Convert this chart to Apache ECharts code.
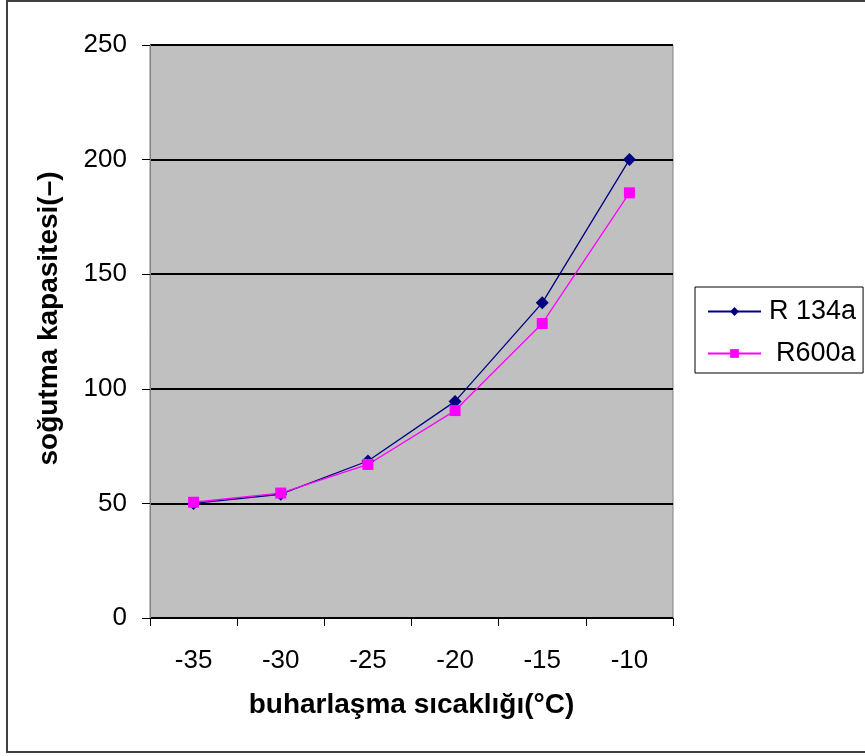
<!DOCTYPE html>
<html><head><meta charset="utf-8">
<script src="https://cdn.jsdelivr.net/npm/echarts@6/dist/echarts.min.js"></script>
<style>html,body{margin:0;padding:0;background:#fff;}#c{width:865px;height:756px;}</style>
</head><body><div id="c"></div>
<script>
const categories = ['-35', '-30', '-25', '-20', '-15', '-10'];
const r134a = [50, 54, 68.5, 94.5, 137.5, 200];
const r600a = [50.5, 54.5, 67, 90.5, 128.5, 185.5];
const yTicks = [0, 50, 100, 150, 200, 250];

const font = '"Liberation Sans", Arial, sans-serif';
const chart = echarts.init(document.getElementById('c'), null, {renderer: 'canvas'});
chart.setOption({
  animation: false,
  backgroundColor: '#fff',
  graphic: [{type: 'rect', shape: {x: 7, y: 1, width: 900, height: 751}, style: {fill: 'none', stroke: '#404040', lineWidth: 2}, z: -10}],
  grid: {left: 150, top: 45, right: 192, bottom: 138, show: true, backgroundColor: '#C0C0C0', borderWidth: 1, borderColor: '#808080'},
  legend: {
    orient: 'vertical', left: 695, top: 287,
    backgroundColor: '#fff', borderColor: '#000', borderWidth: 1,
    padding: [11, 7, 6, 12], itemGap: 15, itemWidth: 53, itemHeight: 11,
    textStyle: {fontFamily: font, fontSize: 27, lineHeight: 27, color: '#000', padding: [0, 0, 0, 3]},
    data: [{name: 'R 134a'}, {name: 'R600a', textStyle: {padding: [0, 0, 0, 10]}}]
  },
  xAxis: {
    type: 'category', data: categories, boundaryGap: true,
    name: 'buharlaşma sıcaklığı(°C)', nameLocation: 'middle', nameGap: 73,
    nameTextStyle: {fontFamily: font, fontSize: 28, fontWeight: 'bold', color: '#000'},
    axisLine: {lineStyle: {color: '#000', width: 1}},
    axisTick: {show: true, length: 8, lineStyle: {color: '#000'}},
    axisLabel: {fontFamily: font, fontSize: 26, color: '#000', margin: 30},
    splitLine: {show: false}
  },
  yAxis: {
    type: 'value', min: 0, max: 250, interval: 50,
    name: 'soğutma kapasitesi(–)', nameLocation: 'middle', nameGap: 87,
    nameTextStyle: {fontFamily: font, fontSize: 28, fontWeight: 'bold', color: '#000', padding: [0, 0, 0, 26]},
    axisLine: {show: true, lineStyle: {color: '#808080', width: 1}},
    axisTick: {show: true, length: 8, lineStyle: {color: '#000'}},
    axisLabel: {fontFamily: font, fontSize: 26, color: '#000', margin: 23,
      formatter: v => yTicks.includes(v) ? String(v) : ''},
    splitLine: {show: true, lineStyle: {color: '#000', width: 2}}
  },
  series: [
    {name: 'R 134a', type: 'line', data: r134a, symbol: 'diamond', symbolSize: 13,
     itemStyle: {color: '#000080'}, lineStyle: {color: '#000080', width: 1.3}},
    {name: 'R600a', type: 'line', data: r600a, symbol: 'rect', symbolSize: 11,
     itemStyle: {color: '#FF00FF'}, lineStyle: {color: '#FF00FF', width: 1.3}}
  ]
});
</script></body></html>
